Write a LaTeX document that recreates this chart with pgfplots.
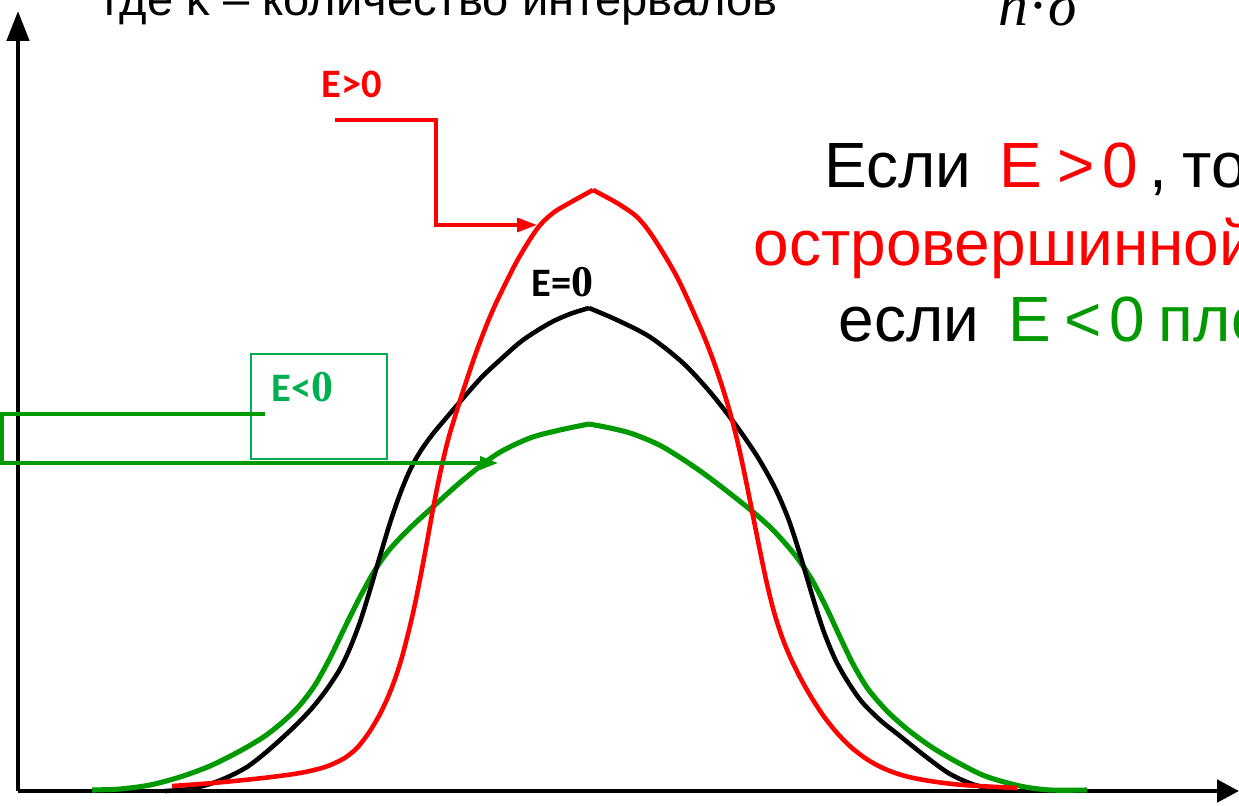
\documentclass[border=0pt]{standalone}
\usepackage{fontspec}
\setmainfont{Liberation Sans}
\newfontfamily\cali{Carlito}
\newfontfamily\tnr{Liberation Serif}
\usepackage{pgfplots}
\pgfplotsset{compat=1.18}
\usetikzlibrary{arrows.meta}

\definecolor{cred}{RGB}{255,0,0}
\definecolor{cgreen}{RGB}{0,153,0}
\definecolor{lgreen}{RGB}{0,176,80}

% curves in pixel coordinates of the slide (y downwards)
\pgfplotstableread{
x y
172 786
213 783
263 778
300 773
325 767
343 759
355 750
362 742
370 731
380 714
388 697
395 679
402 657
409 630
415 604
421 574
427 542
433 509
440 474
448 440
457 410
467 379
477 350
487 324
497 301
517 261
537 229
553 213
573 201
593 190
}\redleft
\pgfplotstableread{
x y
593 190
617 203
637 217
653 237
677 277
700 327
712 357
722 386
731 416
739 448
746 481
753 516
760 551
767 584
774 612
782 637
791 659
802 681
813 700
825 718
838 734
852 748
868 760
885 769
905 776
930 781
963 785
1017 788
}\redright
\pgfplotstableread{
x y
165 791
190 789
213 783
230 776
247 767
264 754
280 740
297 724
313 707
327 689
340 669
350 648
360 622
370 590
380 556
390 523
400 494
410 470
420 452
432 435
453 410
480 379
500 360
523 340
550 323
570 314
589 308
}\blackleft
\pgfplotstableread{
x y
589 308
617 320
650 337
683 363
710 392
735 424
757 456
775 488
788 518
798 548
807 578
816 608
825 635
836 661
848 682
862 702
880 720
900 736
925 756
950 774
975 785
1000 790
}\blackright
\pgfplotstableread{
x y
92 790
120 789
150 785
180 777
210 766
240 751
265 736
285 720
300 705
315 685
330 658
345 627
360 597
375 570
390 549
410 528
435 505
463 480
497 454
530 438
560 430
589 424
}\greenleft
\pgfplotstableread{
x y
589 424
610 428
633 434
663 447
703 473
747 507
772 529
795 555
812 580
827 609
840 637
853 664
868 689
887 711
907 729
930 746
955 761
985 776
1020 786
1050 790
1087 790
}\greenright

\begin{document}
\begin{tikzpicture}
\path[use as bounding box, clip] (0,0) rectangle (12.39cm,8.06cm);
\begin{axis}[
    at={(0,0)}, anchor=south west,
    scale only axis, width=12.39cm, height=8.06cm,
    xmin=0, xmax=1239, ymin=0, ymax=806, y dir=reverse,
    hide axis, clip=false]

% axes
\draw[line width=1.35pt, -{Triangle[length=3mm, width=2.2mm]}] (axis cs:18,791) -- (axis cs:18,11);
\draw[line width=1.35pt, -{Triangle[length=2.2mm, width=2.2mm]}] (axis cs:18,791) -- (axis cs:1239,791);

\addplot[smooth, cgreen, line width=1.45pt] table {\greenleft};
\addplot[smooth, cgreen, line width=1.45pt] table {\greenright};
\addplot[smooth, black, line width=1.3pt] table {\blackleft};
\addplot[smooth, black, line width=1.3pt] table {\blackright};
\addplot[smooth, cred, line width=1.3pt] table {\redleft};
\addplot[smooth, cred, line width=1.3pt] table {\redright};

% E>0 callout
\node[cred, inner sep=0pt, anchor=base west] at (axis cs:321,98)
  {\cali\bfseries\fontsize{11.5}{13}\selectfont E>0};
\draw[cred, line width=0.95pt, -{Triangle[length=2mm, width=1.4mm]}]
  (axis cs:335,120) -- (axis cs:436,120) -- (axis cs:436,225) -- (axis cs:537,225);

% E=0 label
\node[black, anchor=base west, inner sep=0pt] at (axis cs:531,297)
  {\cali\bfseries\fontsize{11.5}{13}\selectfont E=\tnr\fontsize{12.5}{14}\selectfont 0};

% E<0 callout
\draw[lgreen, line width=0.55pt] (axis cs:251,354) rectangle (axis cs:387,459);
\node[lgreen, anchor=base west, inner sep=0pt] at (axis cs:271,402)
  {\cali\bfseries\fontsize{11.5}{13}\selectfont E<\tnr\fontsize{12.5}{14}\selectfont 0};
\draw[cgreen, line width=0.95pt, -{Triangle[length=1.8mm, width=1.3mm]}]
  (axis cs:265,414) -- (axis cs:2,414) -- (axis cs:2,463) -- (axis cs:498,463);

% right text
\begin{scope}[every node/.style={anchor=base west, inner sep=0pt, font=\fontsize{18.2}{22}\selectfont}]
\node at (axis cs:824,188) {Если};
\node[cred] at (axis cs:999,188) {E};
\node[cred] at (axis cs:1057,188) {>};
\node[cred] at (axis cs:1102,188) {0};
\node at (axis cs:1149,188) {,};
\node at (axis cs:1182,188) {то кривая};
\node[cred] at (axis cs:753,266) {островершинной};
\node at (axis cs:838,342) {если};
\node[cgreen] at (axis cs:1008,342) {E};
\node[cgreen] at (axis cs:1064,342) {<};
\node[cgreen] at (axis cs:1109,342) {0};
\node[cgreen] at (axis cs:1158,342) {плосковершинной};
% top line cut by the frame
\node[font=\fontsize{13.4}{16}\selectfont] at (axis cs:104,16) {где k – количество интервалов};
\node[font=\tnr\fontsize{17}{20}\selectfont] at (axis cs:998,26) {\itshape n\upshape·\itshape σ};
\end{scope}
\end{axis}
\end{tikzpicture}
\end{document}
